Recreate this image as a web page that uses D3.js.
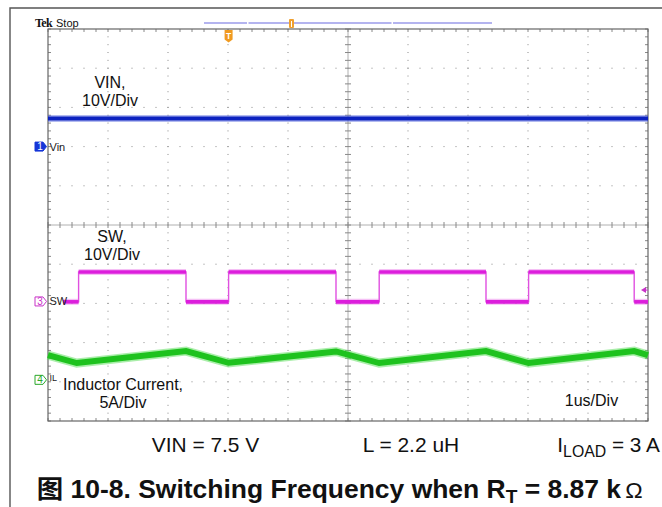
<!DOCTYPE html>
<html><head><meta charset="utf-8">
<script src="https://cdn.jsdelivr.net/npm/d3@7/dist/d3.min.js"></script>
<style>
body{margin:0;background:#fff;}
svg{display:block;font-family:"Liberation Sans",Arial,"Noto Sans CJK SC",sans-serif;}
</style>
</head><body>
<svg id="c" width="662" height="507"></svg>
<script>
// ---- data (time in us, one division = 1 us) ----
const vinTime = [0, 10];
const vinVolt = [7.2, 7.2];               // VIN, 10 V/div

const swTime = [0.25, 0.51, 0.51, 2.30, 2.30, 3.01, 3.01, 4.80, 4.80, 5.52, 5.52, 7.30, 7.30, 8.01, 8.01, 9.77, 9.77, 10];
const swVolt = [-0.1, -0.1, 7.5, 7.5, -0.1, -0.1, 7.5, 7.5, -0.1, -0.1, 7.5, 7.5, -0.1, -0.1, 7.5, 7.5, -0.1, -0.1]; // SW, 10 V/div

const ilTime = [0, 0.48, 2.30, 3.01, 4.80, 5.52, 7.30, 8.01, 9.77, 10];
const ilAmp  = [3.16, 2.14, 3.67, 2.17, 3.62, 2.14, 3.67, 2.14, 3.67, 3.16]; // IL, 5 A/div

const channelNames = ["Vin", "SW", "IL"];
const channelNums  = ["1", "3", "4"];
const channelPos   = [2.0, -1.95, -3.95];   // ground marker position (div)
const channelScale = [10, 10, 5];           // units per div
const triggerTime = 3.01;
const triggerLevel = 2.9;
const scopeLabels = [["VIN,", "10V/Div"], ["SW,", "10V/Div"], ["Inductor Current,", "5A/Div"]];

// ---- layout ----
const svg = d3.select("#c");
const L = 48, R = 648, T = 29, B = 421;
const x = d3.scaleLinear().domain([0, 10]).range([L, R]);
const yDiv = d3.scaleLinear().domain([-5, 5]).range([B, T]);
const chY = (i, v) => yDiv(channelPos[i] + v / channelScale[i]);

// outer frame
svg.append("path").attr("d", "M10,507 L10,8 L662,8").attr("fill", "none").attr("stroke", "#555").attr("stroke-width", 1.4);

// grid
const g = svg.append("g");
const gridCol = "#8a8a8a";
d3.range(1, 10).filter(d => d !== 5).forEach(d => {
  g.append("line").attr("x1", x(d)).attr("x2", x(d)).attr("y1", T).attr("y2", B)
    .attr("stroke", gridCol).attr("stroke-width", 1).attr("stroke-dasharray", "1," + (yDiv(0) - yDiv(0.2) - 1)).attr("stroke-dashoffset", 0.5 - (yDiv(0) - yDiv(0.2)));
});
d3.range(-4, 5).filter(d => d !== 0).forEach(d => {
  g.append("line").attr("x1", L).attr("x2", R).attr("y1", yDiv(d)).attr("y2", yDiv(d))
    .attr("stroke", gridCol).attr("stroke-width", 1).attr("stroke-dasharray", "1," + (x(0.2) - x(0) - 1)).attr("stroke-dashoffset", 0.5 - (x(0.2) - x(0)));
});
// center lines with ticks
g.append("line").attr("x1", x(5)).attr("x2", x(5)).attr("y1", T).attr("y2", B).attr("stroke", "#b0b0b0");
g.append("line").attr("x1", L).attr("x2", R).attr("y1", yDiv(0)).attr("y2", yDiv(0)).attr("stroke", "#b0b0b0");
d3.range(0, 10.001, 0.2).forEach(t => {
  g.append("line").attr("x1", x(t)).attr("x2", x(t)).attr("y1", yDiv(0) - 3).attr("y2", yDiv(0) + 3).attr("stroke", "#888");
  g.append("line").attr("x1", x(t)).attr("x2", x(t)).attr("y1", T).attr("y2", T + 3).attr("stroke", "#888");
  g.append("line").attr("x1", x(t)).attr("x2", x(t)).attr("y1", B - 3).attr("y2", B).attr("stroke", "#888");
});
d3.range(-5, 5.001, 0.2).forEach(d => {
  g.append("line").attr("x1", x(5) - 3).attr("x2", x(5) + 3).attr("y1", yDiv(d)).attr("y2", yDiv(d)).attr("stroke", "#888");
  g.append("line").attr("x1", L).attr("x2", L + 3).attr("y1", yDiv(d)).attr("y2", yDiv(d)).attr("stroke", "#888");
  g.append("line").attr("x1", R - 3).attr("x2", R).attr("y1", yDiv(d)).attr("y2", yDiv(d)).attr("stroke", "#888");
});
g.append("rect").attr("x", L).attr("y", T).attr("width", R - L).attr("height", B - T).attr("fill", "none").attr("stroke", "#666").attr("stroke-width", 1.2);

// traces
const line = (i) => d3.line().x(d => x(d[0])).y(d => chY(i, d[1]));
const vinData = vinTime.map((t, k) => [t, vinVolt[k]]);
const swData = swTime.map((t, k) => [t, swVolt[k]]);
const ilData = ilTime.map((t, k) => [t, ilAmp[k]]);

svg.append("path").attr("d", line(0)(vinData)).attr("fill", "none").attr("stroke", "#5566dd").attr("stroke-width", 7).attr("opacity", 0.45);
svg.append("path").attr("d", line(0)(vinData)).attr("fill", "none").attr("stroke", "#0c22c0").attr("stroke-width", 4);

svg.append("path").attr("d", line(1)(swData)).attr("fill", "none").attr("stroke", "#e050e0").attr("stroke-width", 1.4);
for (let k = 0; k < swData.length - 1; k++) {
  if (swData[k][1] === swData[k + 1][1]) {
    const seg = [swData[k], swData[k + 1]];
    svg.append("path").attr("d", line(1)(seg)).attr("fill", "none").attr("stroke", "#e870e8").attr("stroke-width", 6).attr("opacity", 0.45);
    svg.append("path").attr("d", line(1)(seg)).attr("fill", "none").attr("stroke", "#dc1edc").attr("stroke-width", 3.6);
  }
}

svg.append("path").attr("d", line(2)(ilData)).attr("fill", "none").attr("stroke", "#55dd55").attr("stroke-width", 9).attr("opacity", 0.5);
svg.append("path").attr("d", line(2)(ilData)).attr("fill", "none").attr("stroke", "#1ec21e").attr("stroke-width", 6);

// channel markers
const chCol = ["#1536d8", "#c832c8", "#2aa82a"];
channelNames.forEach((nm, i) => {
  const yy = yDiv(channelPos[i]);
  const p = `M35,${yy - 4.5} L43,${yy - 4.5} L46.5,${yy} L43,${yy + 4.5} L35,${yy + 4.5} Z`;
  svg.append("path").attr("d", p).attr("fill", i === 0 ? chCol[0] : "#fff").attr("stroke", chCol[i]).attr("stroke-width", 1);
  svg.append("text").attr("x", 40).attr("y", yy + 3.5).attr("text-anchor", "middle").attr("font-size", 10)
    .attr("fill", i === 0 ? "#fff" : chCol[i]).text(channelNums[i]);
  svg.append("text").attr("x", 49.5).attr("y", yy + (i === 2 ? 1.5 : 4)).attr("font-size", i === 2 ? 9 : 11).attr("fill", "#222").text(nm);
});

// trigger level arrow (right)
const ty = chY(1, triggerLevel);
svg.append("path").attr("d", `M641,${ty} L646,${ty - 3} L646,${ty + 3} Z`).attr("fill", "#c832c8");
svg.append("line").attr("x1", 645).attr("x2", 648).attr("y1", ty).attr("y2", ty).attr("stroke", "#c832c8");

// top status
svg.append("text").attr("x", 35).attr("y", 27).attr("font-size", 12).attr("font-weight", "bold").attr("font-family", "Liberation Serif, serif").attr("fill", "#111").attr("letter-spacing", -0.6).text("Tek");
svg.append("text").attr("x", 56).attr("y", 27).attr("font-size", 11).attr("fill", "#111").text("Stop");
[[204, 247], [248.5, 391.5], [393, 492]].forEach(s => {
  svg.append("line").attr("x1", s[0]).attr("x2", s[1]).attr("y1", 23).attr("y2", 23).attr("stroke", "#6a6ae0").attr("stroke-width", 1.2);
});
// record position marker
svg.append("rect").attr("x", 289).attr("y", 19).attr("width", 5).attr("height", 9).attr("rx", 1).attr("fill", "#f0a030");
svg.append("line").attr("x1", 291.5).attr("x2", 291.5).attr("y1", 21).attr("y2", 27).attr("stroke", "#fff").attr("stroke-width", 1);
// trigger T marker
const tx = x(triggerTime);
svg.append("path").attr("d", `M${tx - 4},30 L${tx + 4},30 L${tx + 4},39.5 L${tx},42.5 L${tx - 4},39.5 Z`).attr("fill", "#f09a20");
svg.append("text").attr("x", tx).attr("y", 39).attr("text-anchor", "middle").attr("font-size", 8.5).attr("font-weight", "bold").attr("fill", "#fff").text("T");

// in-plot labels
const labPos = [[110, 88, 106], [112, 241.7, 260], [123, 390, 408.3]];
scopeLabels.forEach((ls, i) => {
  ls.forEach((s, j) => {
    svg.append("text").attr("x", labPos[i][0]).attr("y", labPos[i][1 + j]).attr("text-anchor", "middle")
      .attr("font-size", 16).attr("fill", "#111").text(s);
  });
});
svg.append("text").attr("x", 591.5).attr("y", 405.5).attr("text-anchor", "middle").attr("font-size", 16).attr("fill", "#111").text("1us/Div");

// fit helper
function fit(sel, x0, x1) {
  const b = sel.node().getBBox();
  const s = (x1 - x0) / b.width;
  sel.attr("transform", `translate(${x0 - s * b.x},0) scale(${s},1)`);
}

// bottom conditions
const cond1 = svg.append("text").attr("x", 0).attr("y", 451.7).attr("font-size", 21).attr("fill", "#111").text("VIN = 7.5 V");
fit(cond1, 151.7, 259.3);
const cond2 = svg.append("text").attr("x", 0).attr("y", 451.7).attr("font-size", 21).attr("fill", "#111").text("L = 2.2 uH");
fit(cond2, 362.7, 459.3);
const cond3 = svg.append("text").attr("x", 0).attr("y", 451.7).attr("font-size", 21).attr("fill", "#111");
cond3.append("tspan").text("I");
cond3.append("tspan").attr("dy", 5).attr("font-size", 16).text("LOAD");
cond3.append("tspan").attr("dy", -5).text(" = 3 A");
fit(cond3, 557.3, 660);

// caption
const cap = svg.append("text").attr("x", 0).attr("y", 498).attr("font-size", 25).attr("font-weight", "bold").attr("fill", "#111");
cap.append("tspan").text("图 10-8. Switching Frequency when R");
cap.append("tspan").attr("dy", 5).attr("font-size", 18).text("T");
cap.append("tspan").attr("dy", -5).text(" = 8.87 k");
cap.append("tspan").attr("font-weight", "normal").attr("font-size", 22).attr("dx", 4).text("Ω");
fit(cap, 36.7, 643);
</script>
</body></html>
